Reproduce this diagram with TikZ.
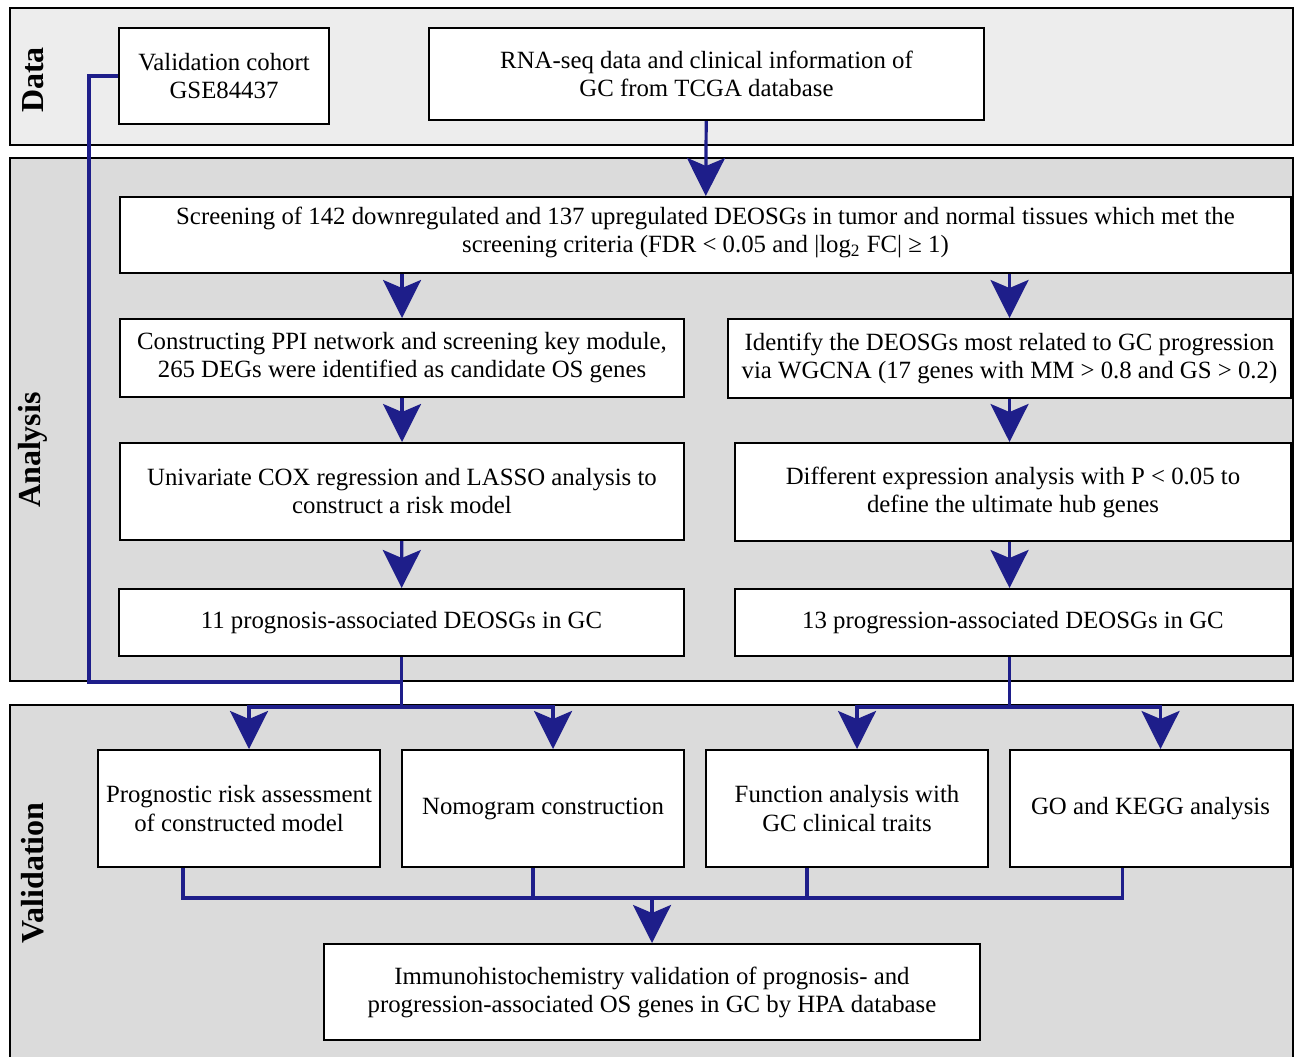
\documentclass[tikz,border=0pt]{standalone}
\usepackage{fontspec}
\setmainfont{Liberation Serif}
\usepackage{tikz}
\usetikzlibrary{arrows.meta}
\definecolor{navy}{RGB}{30,30,138}

\begin{document}
\begin{tikzpicture}[x=0.5pt, y=-0.5pt,
    box/.style={draw, fill=white, line width=1pt, align=center, inner sep=0pt,
      font=\fontsize{12.4}{14}\selectfont},
    panel/.style={draw, line width=1pt},
    title/.style={rotate=90, font=\bfseries\fontsize{16}{18}\selectfont},
    line/.style={draw=navy, line width=1.6pt},
    arrow/.style={line, -{Stealth[length=19pt,width=19pt,inset=4pt]}}]
        \useasboundingbox (0,0) rectangle (1300,1056);
        % the three bands
        \draw[panel, fill=black!7] (10,8) rectangle (1293,145);
        \draw[panel, fill=black!14] (10,158) rectangle (1293,681);
        \draw[panel, fill=black!14] (10,705) rectangle (1293,1070);
        \node[title] (tdata) at (33,80) {Data};
        \node[title] (tana) at (33,450) {Analysis};
        \node[title] (tval) at (33,873) {Validation};
        % data
        \node[box, minimum width=105pt, minimum height=48pt] (cohort) at (224,76) {Validation cohort\\GSE84437};
        \node[box, minimum width=277.5pt, minimum height=46pt] (tcga) at (706.5,74) {RNA-seq data and clinical information of\\GC from TCGA database};
        % analysis
        \node[box, minimum width=585.5pt, minimum height=38pt] (screen) at (705.5,235) {Screening of 142 downregulated and 137 upregulated DEOSGs in tumor and normal tissues which met the\\screening criteria (FDR < 0.05 and |log\textsubscript{2} FC| ≥ 1)\rule[-5pt]{0pt}{0pt}};
        \node[box, minimum width=282pt, minimum height=39pt] (ppi) at (402,358) {Constructing PPI network and screening key module,\\265 DEGs were identified as candidate OS genes};
        \node[box, minimum width=281.5pt, minimum height=39.5pt] (wgcna) at (1009.5,358.5) {Identify the DEOSGs most related to GC progression\\via WGCNA (17 genes with MM > 0.8 and GS > 0.2)};
        \node[box, minimum width=282pt, minimum height=48.5pt] (cox) at (402,491.5) {Univariate COX regression and LASSO analysis to\\construct a risk model};
        \node[box, minimum width=278pt, minimum height=49pt] (diff) at (1013,492) {Different expression analysis with P < 0.05 to\\define the ultimate hub genes};
        \node[box, minimum width=282.5pt, minimum height=33.5pt] (prog11) at (401.5,622.5) {11 prognosis-associated DEOSGs in GC};
        \node[box, minimum width=278pt, minimum height=33.5pt] (prog13) at (1013,622.5) {13 progression-associated DEOSGs in GC};
        % validation
        \node[box, minimum width=141pt, minimum height=58.5pt] (risk) at (239,808.5) {Prognostic risk assessment\\of constructed model};
        \node[box, minimum width=141pt, minimum height=58.5pt] (nomo) at (543,808.5) {Nomogram construction};
        \node[box, minimum width=141pt, minimum height=58.5pt] (func) at (847,808.5) {Function analysis with\\GC clinical traits};
        \node[box, minimum width=140.5pt, minimum height=58.5pt] (gokegg) at (1150.5,808.5) {GO and KEGG analysis};
        \node[box, minimum width=328pt, minimum height=48pt] (ihc) at (652,992) {Immunohistochemistry validation of prognosis- and\\progression-associated OS genes in GC by HPA database};
        % connectors
        \draw[arrow] (tcga) -- (screen);
        \draw[arrow] (ppi.north |- screen.south) -- (ppi);
        \draw[arrow] (wgcna.north |- screen.south) -- (wgcna);
        \draw[arrow] (ppi) -- (cox);
        \draw[arrow] (wgcna.south) -- (wgcna.south |- diff.north);
        \draw[arrow] (cox) -- (prog11);
        \draw[arrow] (wgcna.south |- diff.south) -- (wgcna.south |- prog13.north);
        \draw[line] (cohort.west) -- ++(-29,0) |- ([yshift=-12.5pt]prog11.south);
        \draw[line] (prog11.south) -- ++(0,50) coordinate (fl);
        \draw[arrow] (fl) -| ([xshift=5pt]risk.north);
        \draw[arrow] (fl) -| ([xshift=5pt]nomo.north);
        \draw[line] (wgcna.south |- prog13.south) -- ++(0,50) coordinate (fr);
        \draw[arrow] (fr) -| ([xshift=5pt]func.north);
        \draw[arrow] (fr) -| ([xshift=5pt]gokegg.north);
        \coordinate (mg) at (652,898);
        \draw[line] ([xshift=-28pt]risk.south) |- ([xshift=-14pt]gokegg.south |- mg) -- ([xshift=-14pt]gokegg.south);
        \draw[line] ([xshift=-5pt]nomo.south) -- ([xshift=-5pt]nomo.south |- mg);
        \draw[line] ([xshift=-20pt]func.south) -- ([xshift=-20pt]func.south |- mg);
        \draw[arrow] (mg) -- (ihc);
\end{tikzpicture}
\end{document}
